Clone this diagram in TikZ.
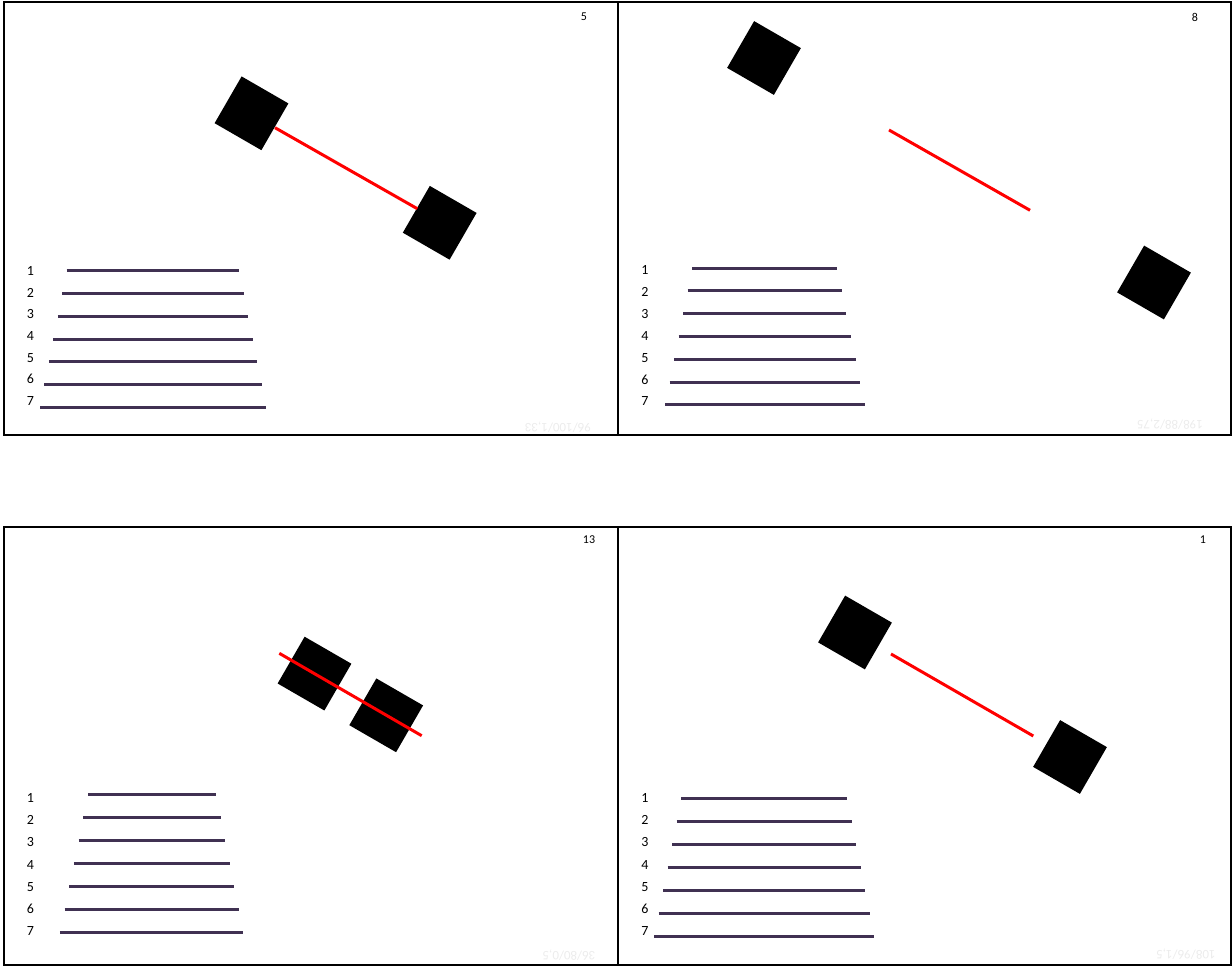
\documentclass[tikz,border=0pt]{standalone}
\usepackage{fontspec}
\setmainfont{Carlito}
\definecolor{barc}{RGB}{64,49,82}
\definecolor{ghostc}{RGB}{236,236,236}
\begin{document}
\begin{tikzpicture}[x=1pt,y=-1pt,
  panel/.style={draw=black, line width=1.6pt},
  blk/.style={fill=black, minimum size=54pt, inner sep=0pt, rotate=-30},
  bar/.style={draw=barc, line width=3pt},
  redl/.style={draw=red, line width=3pt},
  num/.style={font=\fontsize{14}{16}\selectfont, inner sep=0pt, anchor=center},
  pnum/.style={font=\fontsize{12}{14}\selectfont, inner sep=0pt, anchor=center},
  ghost/.style={text=ghostc, font=\fontsize{13}{15}\selectfont, inner sep=0pt, rotate=180}]
\useasboundingbox (0,0) rectangle (1232,966);
% panels
\draw[panel] (4,2) rectangle (618,435);
\draw[panel] (618,2) rectangle (1231,435);
\draw[panel] (4,527) rectangle (618,965);
\draw[panel] (618,527) rectangle (1231,965);
% panel numbers
\node[pnum] (n1) at (584,17) {5};
\node[pnum] (n2) at (1195,17) {8};
\node[pnum] (n3) at (589,540) {13};
\node[pnum] (n4) at (1203,540) {1};
% ghost texts
\node[ghost] (g1) at (558,427) {96/100/1,33};
\node[ghost] (g2) at (1170,424) {198/88/2,75};
\node[ghost] (g3) at (569,955) {36/80/0,5};
\node[ghost] (g4) at (1186,954) {108/96/1,5};
% lists
\foreach \i in {1,...,7} {
  \pgfmathsetmacro{\k}{\i-1}
  % panel 1
  \draw[bar] (66.7-4.45*\k, 270.7+22.77*\k) -- (239+4.5*\k, 270.7+22.77*\k);
  \node[num] (la\i) at (30.5, 271+21.65*\k) {\i};
  % panel 2
  \draw[bar] (692-4.5*\k, 268+22.8*\k) -- (837+4.67*\k, 268+22.8*\k);
  \node[num] (lb\i) at (645, 270+21.9*\k) {\i};
  % panel 3
  \draw[bar] (88-4.67*\k, 794+23*\k) -- (216+4.5*\k, 794+23*\k);
  \node[num] (lc\i) at (30.5, 798+22.2*\k) {\i};
  % panel 4
  \draw[bar] (681-4.5*\k, 798+23*\k) -- (847+4.5*\k, 798+23*\k);
  \node[num] (ld\i) at (645, 798+22.2*\k) {\i};
}
% panel 1 squares and line
\node[blk] (a1) at (251.5,113.3) {};
\node[blk] (a2) at (439.7,222.8) {};
\coordinate (ra1) at (275,127.7);
\coordinate (ra2) at (417.3,208.7);
\draw[redl] (ra1) -- (ra2);
% panel 2
\node[blk] (b1) at (764,58) {};
\node[blk] (b2) at (1154,282.5) {};
\coordinate (rb1) at (889,130);
\coordinate (rb2) at (1030,210.3);
\draw[redl] (rb1) -- (rb2);
% panel 3
\node[blk] (c1) at (314.5,673.6) {};
\node[blk] (c2) at (386.2,715.3) {};
\coordinate (rc1) at (279.3,653.3);
\coordinate (rc2) at (421.7,735.7);
\draw[redl] (rc1) -- (rc2);
% panel 4
\node[blk] (d1) at (855,632.5) {};
\node[blk] (d2) at (1070,757) {};
\coordinate (rd1) at (891,654);
\coordinate (rd2) at (1033.3,736);
\draw[redl] (rd1) -- (rd2);
\end{tikzpicture}
\end{document}
